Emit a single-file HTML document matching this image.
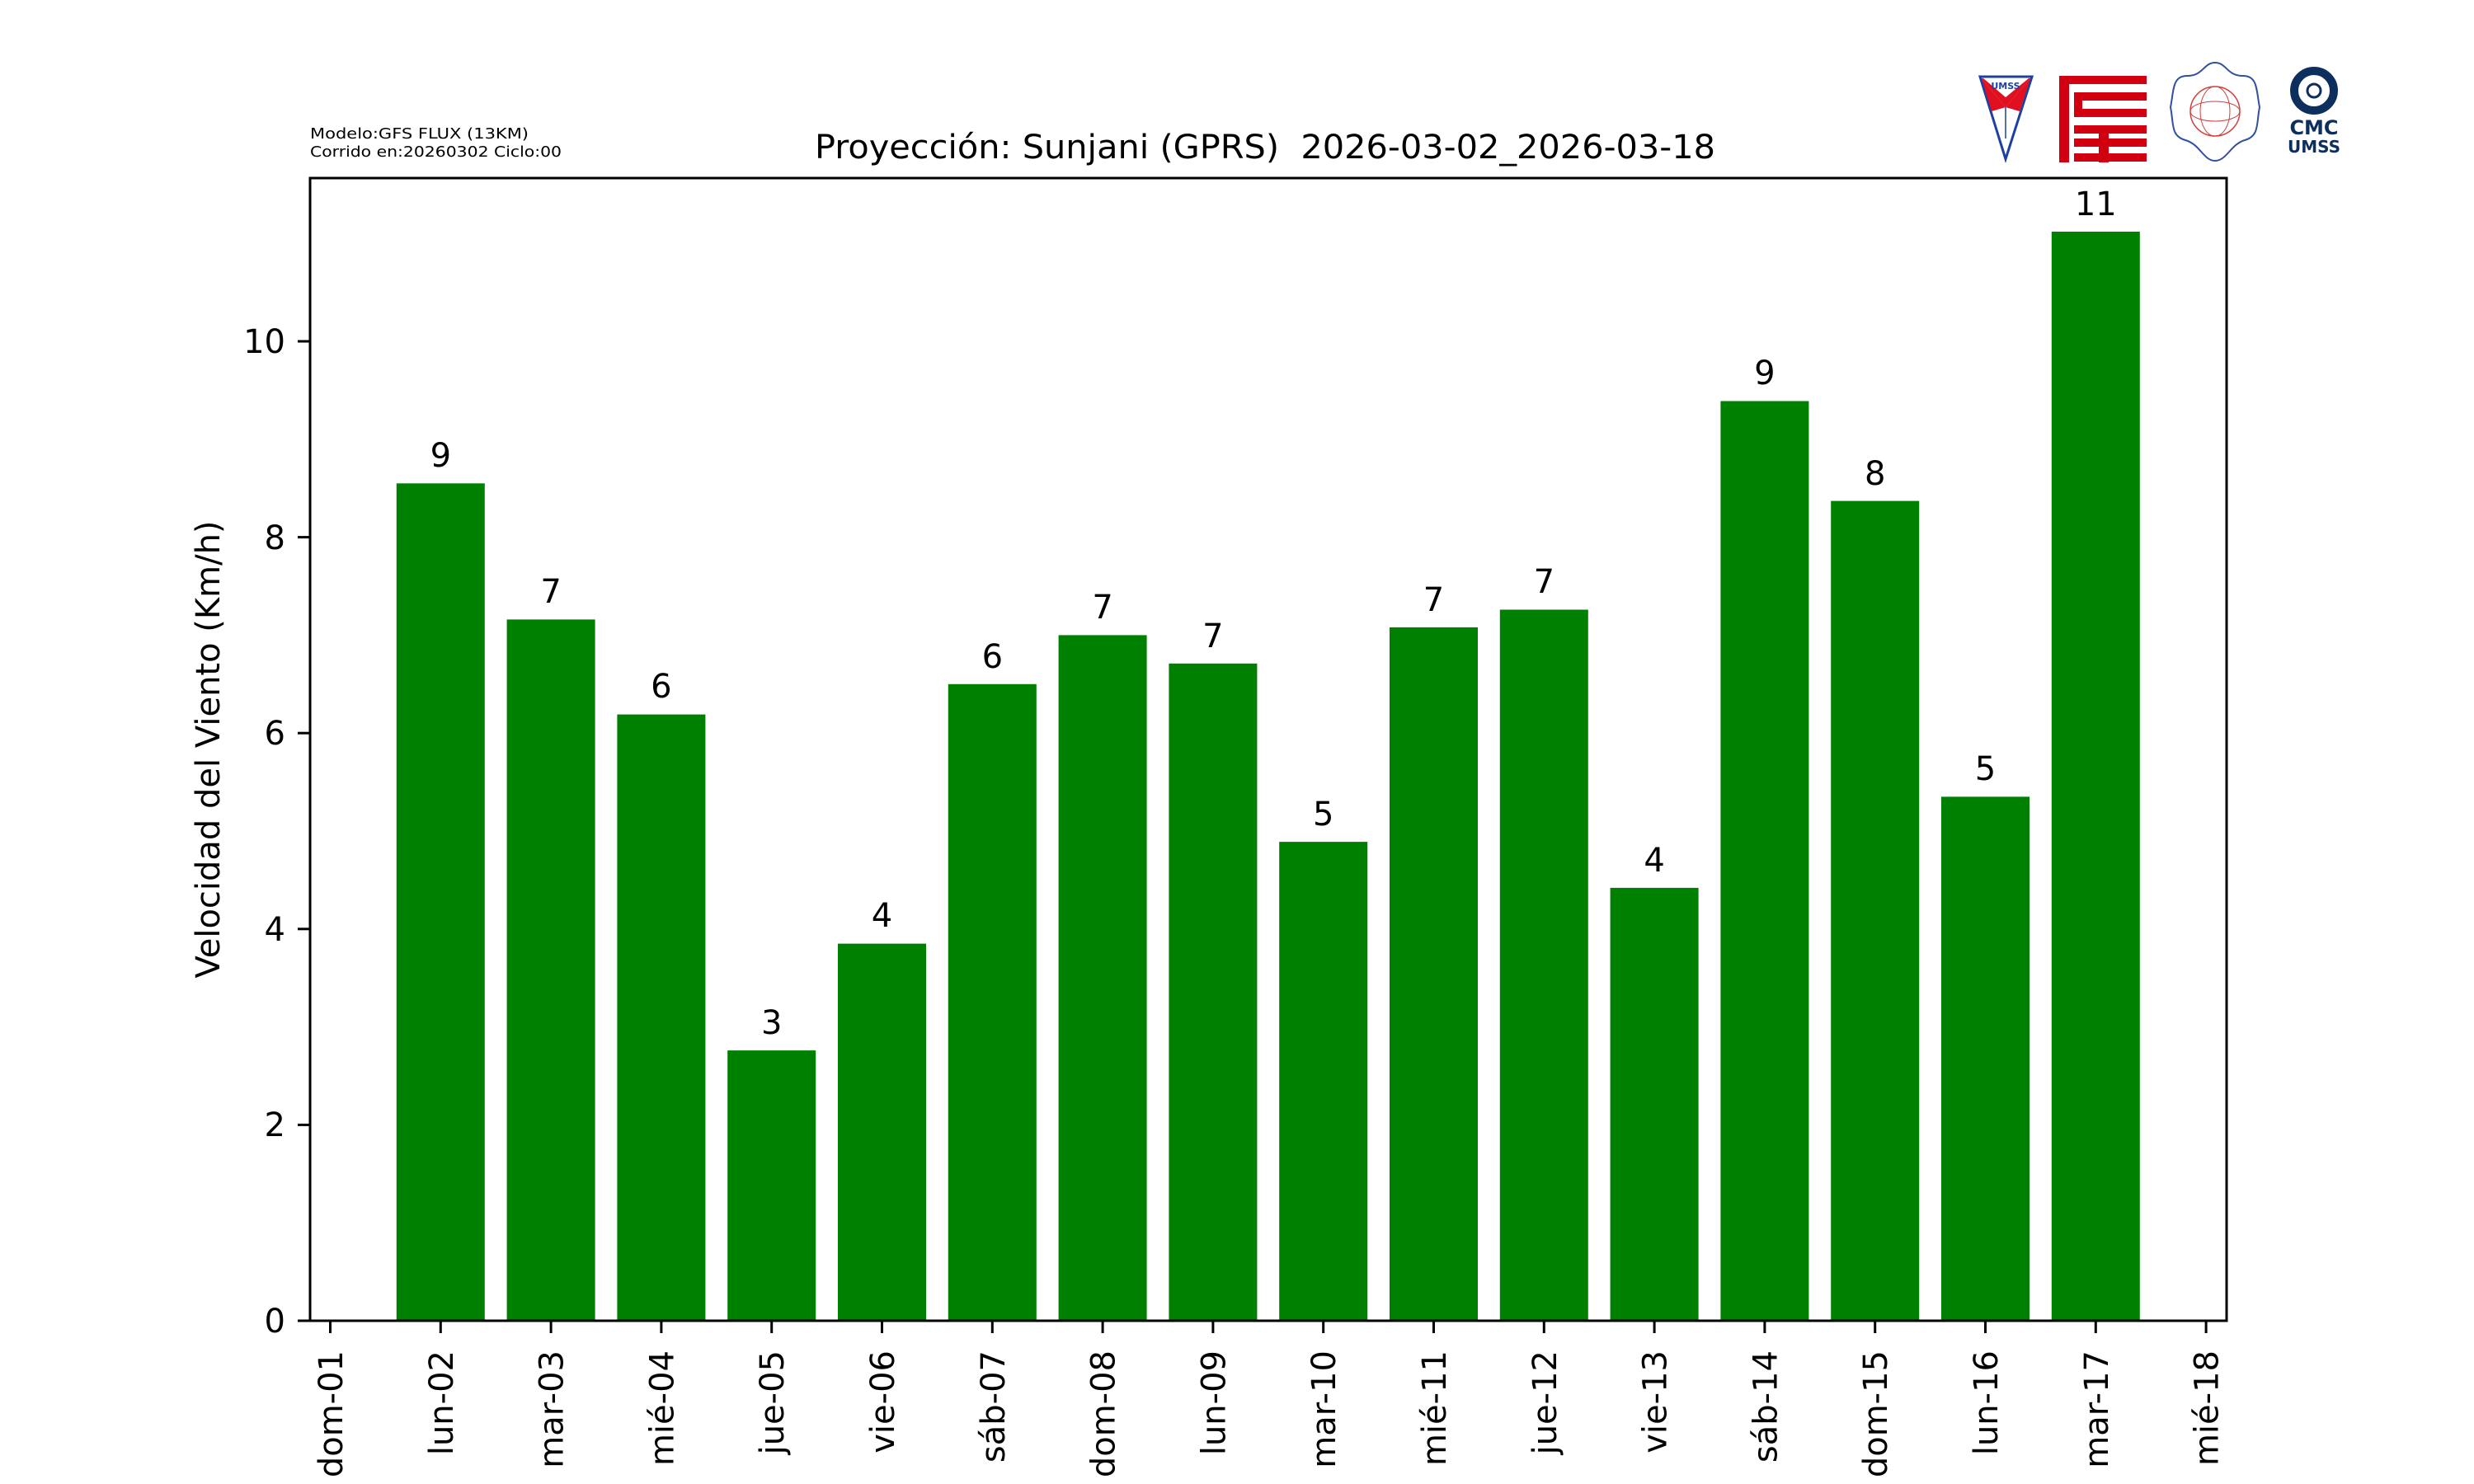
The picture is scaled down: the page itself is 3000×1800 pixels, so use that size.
<!DOCTYPE html>
<html><head><meta charset="utf-8"><style>
html,body{margin:0;padding:0;background:#fff;}
svg{display:block;}
text{font-family:"DejaVu Sans","Liberation Sans",sans-serif;fill:#000;}
</style></head><body>
<svg width="3000" height="1800" viewBox="0 0 3000 1800" xmlns="http://www.w3.org/2000/svg">
<rect width="3000" height="1800" fill="#fff"/>
<g fill="#008000">
<rect x="480.8" y="586.3" width="107" height="1015.7"/>
<rect x="614.6" y="751.4" width="107" height="850.6"/>
<rect x="748.4" y="866.6" width="107" height="735.4"/>
<rect x="882.2" y="1274.1" width="107" height="327.9"/>
<rect x="1016" y="1144.6" width="107" height="457.4"/>
<rect x="1149.8" y="829.8" width="107" height="772.2"/>
<rect x="1283.6" y="770.4" width="107" height="831.6"/>
<rect x="1417.4" y="804.8" width="107" height="797.2"/>
<rect x="1551.2" y="1021.1" width="107" height="580.9"/>
<rect x="1685" y="760.9" width="107" height="841.1"/>
<rect x="1818.8" y="739.5" width="107" height="862.5"/>
<rect x="1952.6" y="1076.9" width="107" height="525.1"/>
<rect x="2086.4" y="486.5" width="107" height="1115.5"/>
<rect x="2220.2" y="607.6" width="107" height="994.4"/>
<rect x="2354" y="966.4" width="107" height="635.6"/>
<rect x="2487.8" y="281" width="107" height="1321"/>
</g>
<g font-size="40" text-anchor="middle">
<text x="534.3" y="566">9</text>
<text x="668.1" y="731">7</text>
<text x="801.9" y="846">6</text>
<text x="935.7" y="1254">3</text>
<text x="1069.5" y="1124">4</text>
<text x="1203.3" y="810">6</text>
<text x="1337.1" y="750">7</text>
<text x="1470.9" y="785">7</text>
<text x="1604.7" y="1001">5</text>
<text x="1738.5" y="741">7</text>
<text x="1872.3" y="719">7</text>
<text x="2006.1" y="1057">4</text>
<text x="2139.9" y="466">9</text>
<text x="2273.7" y="588">8</text>
<text x="2407.5" y="946">5</text>
<text x="2541.3" y="261">11</text>
</g>
<rect x="376" y="216" width="2324" height="1386" fill="none" stroke="#000" stroke-width="3"/>
<g stroke="#000" stroke-width="3">
<line x1="361" y1="1602" x2="376" y2="1602"/>
<line x1="361" y1="1364.4" x2="376" y2="1364.4"/>
<line x1="361" y1="1126.8" x2="376" y2="1126.8"/>
<line x1="361" y1="889.2" x2="376" y2="889.2"/>
<line x1="361" y1="651.6" x2="376" y2="651.6"/>
<line x1="361" y1="414" x2="376" y2="414"/>
</g>
<g font-size="40" text-anchor="end">
<text x="346" y="1616">0</text>
<text x="346" y="1378">2</text>
<text x="346" y="1141">4</text>
<text x="346" y="903">6</text>
<text x="346" y="666">8</text>
<text x="346" y="428">10</text>
</g>
<g stroke="#000" stroke-width="3">
<line x1="400.5" y1="1602" x2="400.5" y2="1617"/>
<line x1="534.3" y1="1602" x2="534.3" y2="1617"/>
<line x1="668.1" y1="1602" x2="668.1" y2="1617"/>
<line x1="801.9" y1="1602" x2="801.9" y2="1617"/>
<line x1="935.7" y1="1602" x2="935.7" y2="1617"/>
<line x1="1069.5" y1="1602" x2="1069.5" y2="1617"/>
<line x1="1203.3" y1="1602" x2="1203.3" y2="1617"/>
<line x1="1337.1" y1="1602" x2="1337.1" y2="1617"/>
<line x1="1470.9" y1="1602" x2="1470.9" y2="1617"/>
<line x1="1604.7" y1="1602" x2="1604.7" y2="1617"/>
<line x1="1738.5" y1="1602" x2="1738.5" y2="1617"/>
<line x1="1872.3" y1="1602" x2="1872.3" y2="1617"/>
<line x1="2006.1" y1="1602" x2="2006.1" y2="1617"/>
<line x1="2139.9" y1="1602" x2="2139.9" y2="1617"/>
<line x1="2273.7" y1="1602" x2="2273.7" y2="1617"/>
<line x1="2407.5" y1="1602" x2="2407.5" y2="1617"/>
<line x1="2541.3" y1="1602" x2="2541.3" y2="1617"/>
<line x1="2675.1" y1="1602" x2="2675.1" y2="1617"/>
</g>
<g font-size="40" text-anchor="end">
<text transform="translate(415,1638) rotate(-90)">dom-01</text>
<text transform="translate(548.8,1638) rotate(-90)">lun-02</text>
<text transform="translate(682.6,1638) rotate(-90)">mar-03</text>
<text transform="translate(816.4,1638) rotate(-90)">mié-04</text>
<text transform="translate(950.2,1638) rotate(-90)">jue-05</text>
<text transform="translate(1084,1638) rotate(-90)">vie-06</text>
<text transform="translate(1217.8,1638) rotate(-90)">sáb-07</text>
<text transform="translate(1351.6,1638) rotate(-90)">dom-08</text>
<text transform="translate(1485.4,1638) rotate(-90)">lun-09</text>
<text transform="translate(1619.2,1638) rotate(-90)">mar-10</text>
<text transform="translate(1753,1638) rotate(-90)">mié-11</text>
<text transform="translate(1886.8,1638) rotate(-90)">jue-12</text>
<text transform="translate(2020.6,1638) rotate(-90)">vie-13</text>
<text transform="translate(2154.4,1638) rotate(-90)">sáb-14</text>
<text transform="translate(2288.2,1638) rotate(-90)">dom-15</text>
<text transform="translate(2422,1638) rotate(-90)">lun-16</text>
<text transform="translate(2555.8,1638) rotate(-90)">mar-17</text>
<text transform="translate(2689.6,1638) rotate(-90)">mié-18</text>
</g>
<text transform="translate(266,909) rotate(-90)" font-size="40" text-anchor="middle">Velocidad del Viento (Km/h)</text>
<text x="988" y="192" font-size="40" textLength="1092" lengthAdjust="spacingAndGlyphs">Proyección: Sunjani (GPRS)&#160; 2026-03-02_2026-03-18</text>
<text x="376" y="168" font-size="18" textLength="265" lengthAdjust="spacingAndGlyphs">Modelo:GFS FLUX (13KM)</text>
<text x="376" y="190" font-size="18" textLength="305" lengthAdjust="spacingAndGlyphs">Corrido en:20260302 Ciclo:00</text>
<g>
<polygon points="2401,93 2464,93 2432,193" fill="#fff" stroke="#2040a0" stroke-width="3"/>
<polygon points="2403,95 2462,95 2432,130" fill="#e01020"/>
<polygon points="2405,95 2460,95 2432,118" fill="#fff"/>
<polygon points="2403,95 2432,130 2415,135" fill="#e01020"/>
<polygon points="2462,95 2432,130 2449,135" fill="#e01020"/>
<text x="2432" y="108" font-size="11" font-weight="bold" text-anchor="middle" style="fill:#2040a0">UMSS</text>
<line x1="2432" y1="130" x2="2432" y2="168" stroke="#2040a0" stroke-width="1.5"/>
</g>
<g fill="#d00010">
<rect x="2497" y="92" width="106" height="10"/>
<rect x="2497" y="92" width="12" height="105"/>
<rect x="2515" y="112" width="88" height="10"/>
<rect x="2515" y="112" width="10" height="30"/>
<rect x="2525" y="132" width="78" height="10"/>
<rect x="2515" y="152" width="88" height="10"/>
<rect x="2515" y="168" width="88" height="10"/>
<rect x="2515" y="186" width="88" height="10"/>
<rect x="2545" y="152" width="12" height="45"/>
</g>
<g fill="none">
<path d="M2686,76 C2700,76 2700,92 2720,92 C2738,92 2736,110 2740,130 C2736,150 2740,165 2722,170 C2705,175 2700,195 2686,195 C2672,195 2668,175 2650,170 C2632,165 2636,150 2632,130 C2636,110 2634,92 2652,92 C2672,92 2672,76 2686,76 Z" stroke="#3050a0" stroke-width="2"/>
<circle cx="2686" cy="135" r="30" stroke="#d04040" stroke-width="1.5"/>
<ellipse cx="2686" cy="135" rx="18" ry="30" stroke="#d04040" stroke-width="1"/>
<ellipse cx="2686" cy="135" rx="30" ry="12" stroke="#d04040" stroke-width="1"/>
</g>
<g>
<circle cx="2806" cy="110" r="24" fill="none" stroke="#0d2f5e" stroke-width="10"/>
<circle cx="2806" cy="110" r="8" fill="none" stroke="#0d2f5e" stroke-width="3"/>
<text x="2806" y="163" font-size="24" font-weight="bold" text-anchor="middle" style="fill:#0d2f5e">CMC</text>
<text x="2806" y="185" font-size="20" font-weight="bold" text-anchor="middle" style="fill:#0d2f5e">UMSS</text>
</g>
</svg>
</body></html>
